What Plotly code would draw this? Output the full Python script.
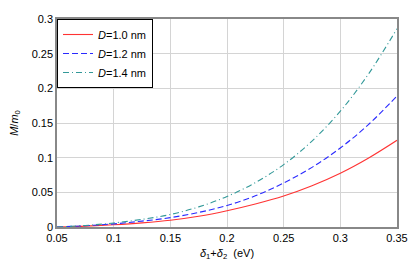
import plotly.graph_objects as go

x_vals = [0.05, 0.075, 0.1, 0.125, 0.15, 0.175, 0.2, 0.225, 0.25, 0.275, 0.3, 0.325, 0.35]
d10 = [0.0, 0.0013, 0.0033, 0.006, 0.0098, 0.0155, 0.0235, 0.0332, 0.0447, 0.0595, 0.0775, 0.0995, 0.125]
d12 = [0.0, 0.0018, 0.0045, 0.0085, 0.0135, 0.021, 0.031, 0.045, 0.0635, 0.086, 0.114, 0.148, 0.189]
d14 = [0.0, 0.0022, 0.0058, 0.011, 0.018, 0.029, 0.044, 0.064, 0.090, 0.124, 0.167, 0.221, 0.286]
names = ["<i>D</i>=1.0 nm", "<i>D</i>=1.2 nm", "<i>D</i>=1.4 nm"]
colors = ["#ff3333", "#2a2aff", "#339999"]
dashes = ["solid", "6px,3px", "6px,3px,1px,3px"]
x_ticks = [0.05, 0.1, 0.15, 0.2, 0.25, 0.3, 0.35]
y_ticks = [0, 0.05, 0.1, 0.15, 0.2, 0.25, 0.3]

fig = go.Figure()
for ys, n, c, d in zip([d10, d12, d14], names, colors, dashes):
    fig.add_trace(go.Scatter(x=x_vals, y=ys, mode="lines", name=n,
                             line=dict(color=c, dash=d, width=1.1, shape="spline")))

font = dict(family="Liberation Sans, Arial, sans-serif", size=11, color="#000")
# page body has an 8px default margin, so the figure is sized 8px smaller
fig.update_layout(
    width=411, height=261,
    margin=dict(l=49, r=22, t=11, b=42, autoexpand=False),
    paper_bgcolor="white", plot_bgcolor="white",
    font=font,
    showlegend=True,
    legend=dict(x=0, y=1, xanchor="left", yanchor="top",
                bordercolor="#000", borderwidth=1, bgcolor="white",
                font=dict(size=11), tracegroupgap=0, itemwidth=30),
    xaxis=dict(range=[0.05, 0.35], tickvals=x_ticks, automargin=False,
               ticktext=[f"{v:g}" for v in x_ticks],
               showgrid=True, gridcolor="#d4d4d4", gridwidth=1,
               showline=True, linecolor="#888", linewidth=1.5, mirror=True,
               ticks="", zeroline=False,
               title=dict(text="<i>δ</i><sub>1</sub>+<i>δ</i><sub>2</sub>  (eV)", standoff=6,
                          font=dict(size=11))),
    yaxis=dict(range=[0, 0.3], tickvals=y_ticks, automargin=False,
               ticktext=[f"{v:g}" for v in y_ticks],
               showgrid=True, gridcolor="#d4d4d4", gridwidth=1,
               showline=True, linecolor="#888", linewidth=1.5, mirror=True,
               ticks="", zeroline=False,
               title=dict(text="<i>M</i>/<i>m</i><sub>0</sub>", standoff=13,
                          font=dict(size=11))),
)
fig.write_html("out.html")
